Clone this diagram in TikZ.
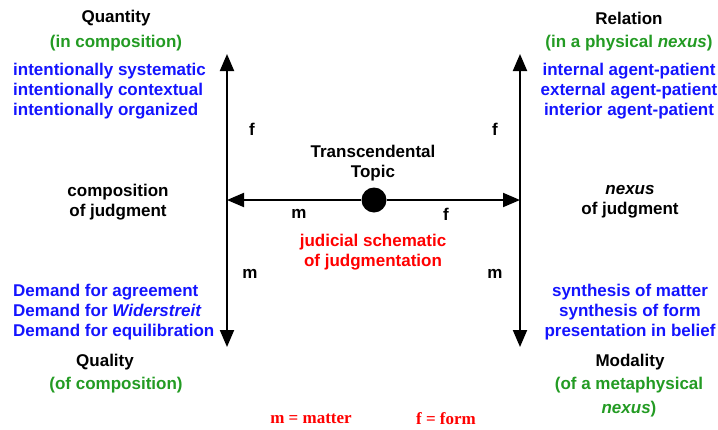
\documentclass[tikz,border=0pt]{standalone}
\usepackage{fontspec}
\setmainfont{Liberation Sans}
\newfontfamily\legendfont{Liberation Serif}
\usetikzlibrary{arrows.meta,positioning}
\definecolor{listblue}{HTML}{1414FF}
\definecolor{subgreen}{HTML}{239B23}
\definecolor{notered}{HTML}{FF0000}

\begin{document}
\begin{tikzpicture}[x=1pt, y=-1pt,
  txt/.style={font=\fontsize{17}{20}\selectfont\bfseries, inner sep=0pt, align=center, yshift=-2pt},
  head/.style={txt},
  sub/.style={txt, text=subgreen},
  lst/.style={txt, text=listblue},
  legend/.style={inner sep=0pt, text=notered, font=\fontsize{17}{20}\selectfont\legendfont\bfseries},
  arr/.style={{Triangle[length=17pt,width=14pt]}-{Triangle[length=17pt,width=14pt]}, line width=2pt},
  harr/.style={-{Triangle[length=17pt,width=14pt]}, line width=2pt}
]
\useasboundingbox (0,0) rectangle (718,429);
% axes
\coordinate (qtop) at (227,54);
\coordinate (qbot) at (227,347);
\coordinate (rtop) at (520,54);
\coordinate (rbot) at (520,347);
\coordinate (lmid) at (227,200);
\coordinate (rmid) at (520,200);
\node[circle, fill, inner sep=0pt, minimum size=25pt] (topic) at (374,200) {};
\draw[arr] (qbot) -- (qtop);
\draw[arr] (rbot) -- (rtop);
\draw[harr] (topic) -- (lmid);
\draw[harr] (topic) -- (rmid);
% axis letters
\node[head] (qf) at (252,127) {f};
\node[head] (qm) at (250,272) {m};
\node[head] (rf) at (495,127) {f};
\node[head] (rm) at (495,272) {m};
\node[head] (hm) at (299,212) {m};
\node[head] (hf) at (446,212) {f};
% quantity
\node[head] (quantity) at (116,16) {Quantity};
\node[sub] (quantsub) at (116,41) {(in composition)};
\node[lst, align=left, anchor=west] (quantlist) at (13,89) {intentionally systematic\\intentionally contextual\\intentionally organized};
% relation
\node[head] (relation) at (629,16) {Relation};
\node[sub] (relsub) at (629,41) {(in a physical \textit{nexus})};
\node[lst] (rellist) at (629,89) {internal agent-patient\\external agent-patient\\interior agent-patient};
% middle
\node[head] (compos) at (118,200) {composition\\of judgment};
\node[head] (nexus) at (630,200) {\textit{nexus}\\of judgment};
\node[head] (transc) at (373,161) {Transcendental\\Topic};
\node[txt, text=notered] (schema) at (373,250) {judicial schematic\\of judgmentation};
% quality
\node[lst, align=left, anchor=west] (qualist) at (13,310) {Demand for agreement\\Demand for \textit{Widerstreit}\\Demand for equilibration};
\node[head] (quality) at (105,360) {Quality};
\node[sub] (qualsub) at (116,383) {(of composition)};
% modality
\node[lst] (modlist) at (630,310) {synthesis of matter\\synthesis of form\\presentation in belief};
\node[head] (modality) at (630,360) {Modality};
\node[sub, font=\fontsize{17}{24}\selectfont\bfseries] (modsub) at (629,395) {(of a metaphysical\\\textit{nexus})};
% legend
\node[legend] (legm) at (311,419) {m = matter};
\node[legend] (legf) at (446,419) {f = form};
\end{tikzpicture}
\end{document}
